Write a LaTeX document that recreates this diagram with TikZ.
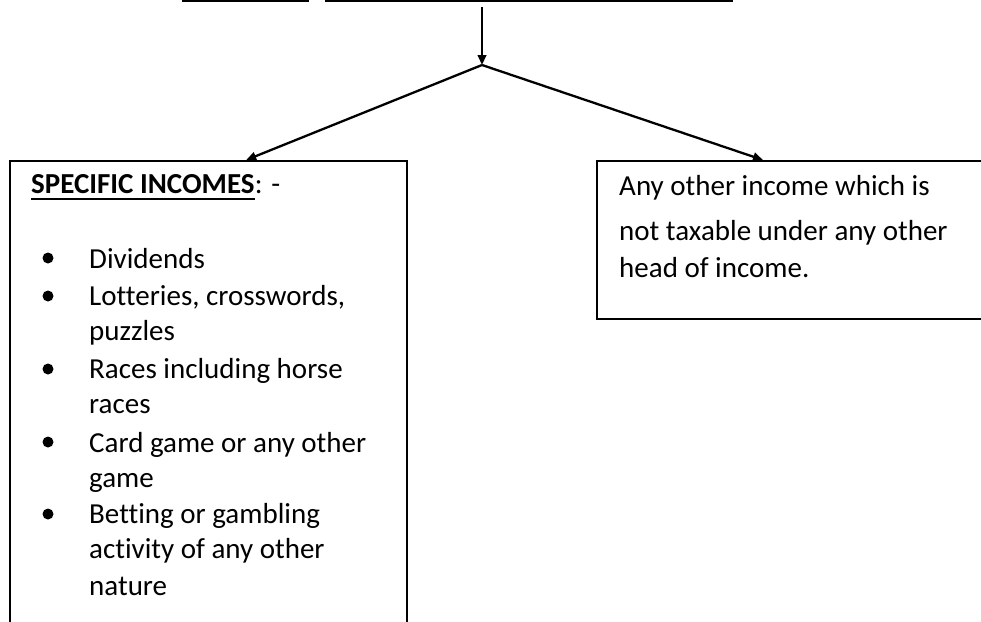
\documentclass[tikz,border=0pt]{standalone}
\usepackage{fontspec}
\setmainfont{Carlito}[Ligatures=NoCommon]
\usetikzlibrary{arrows.meta,calc}
\tikzset{
  txt/.style={inner sep=0pt, anchor=base west, font=\fontsize{29}{36}\selectfont},
  boxline/.style={draw=black, line width=2.3pt},
  conn/.style={line width=2.3pt, -{Triangle[length=10pt,width=8.5pt]}},
  plain/.style={line width=2.3pt},
  bul/.style={circle, fill=black, inner sep=0pt, minimum size=11pt},
}
\begin{document}
\begin{tikzpicture}[x=1pt,y=1pt]
\useasboundingbox (0,0) rectangle (981,-621);
% cut-off underlines at the top
\coordinate (u1a) at (182,-1);
\coordinate (u1b) at (309,-1);
\coordinate (u2a) at (325,-1);
\coordinate (u2b) at (733,-1);
\draw[plain] (u1a) -- (u1b);
\draw[plain] (u2a) -- (u2b);
% boxes
\node[boxline, anchor=north west, minimum width=397pt, minimum height=480pt, inner sep=0pt] (L) at (9,-160) {};
\node[boxline, anchor=north west, minimum width=404pt, minimum height=158pt, inner sep=0pt] (R) at (596,-160) {};
% connectors
\coordinate (top) at (482,-7);
\coordinate (apex) at (482,-65);
\coordinate (Lt) at ($(L.north west)!0.594!(L.north east)$);
\coordinate (Rt) at ($(R.north west)!0.411!(R.north east)$);
\draw[conn] (top) -- (apex);
\draw[conn] (apex) -- (Lt);
\draw[conn] (apex) -- (Rt);
% left box content
\node[txt, font=\fontsize{29}{36}\selectfont\bfseries] (hd) at (31,-193) {SPECIFIC INCOMES};
\draw[line width=2pt] ([yshift=-6pt]hd.base west) -- ([yshift=-6pt]hd.base east);
\node[txt] (hdc) at (hd.base east) {: -};
\node[bul] (b1) at (48,-258) {};
\node[txt] (t1) at (89,-268) {Dividends};
\node[bul] (b2) at (48,-296) {};
\node[txt] (t2a) at (89,-305) {Lotteries, crosswords,};
\node[txt] (t2b) at (89,-340) {puzzles};
\node[bul] (b3) at (48,-369) {};
\node[txt] (t3a) at (89,-378) {Races including horse};
\node[txt] (t3b) at (89,-413) {races};
\node[bul] (b4) at (48,-442) {};
\node[txt] (t4a) at (89,-452) {Card game or any other};
\node[txt] (t4b) at (89,-487) {game};
\node[bul] (b5) at (48,-514) {};
\node[txt] (t5a) at (89,-523) {Betting or gambling};
\node[txt] (t5b) at (89,-558) {activity of any other};
\node[txt] (t5c) at (89,-595) {nature};
% right box content
\node[txt] (r1) at (619,-195) {Any other income which is};
\node[txt] (r2) at (619,-240) {not taxable under any other};
\node[txt] (r3) at (619,-277) {head of income.};
\end{tikzpicture}
\end{document}
